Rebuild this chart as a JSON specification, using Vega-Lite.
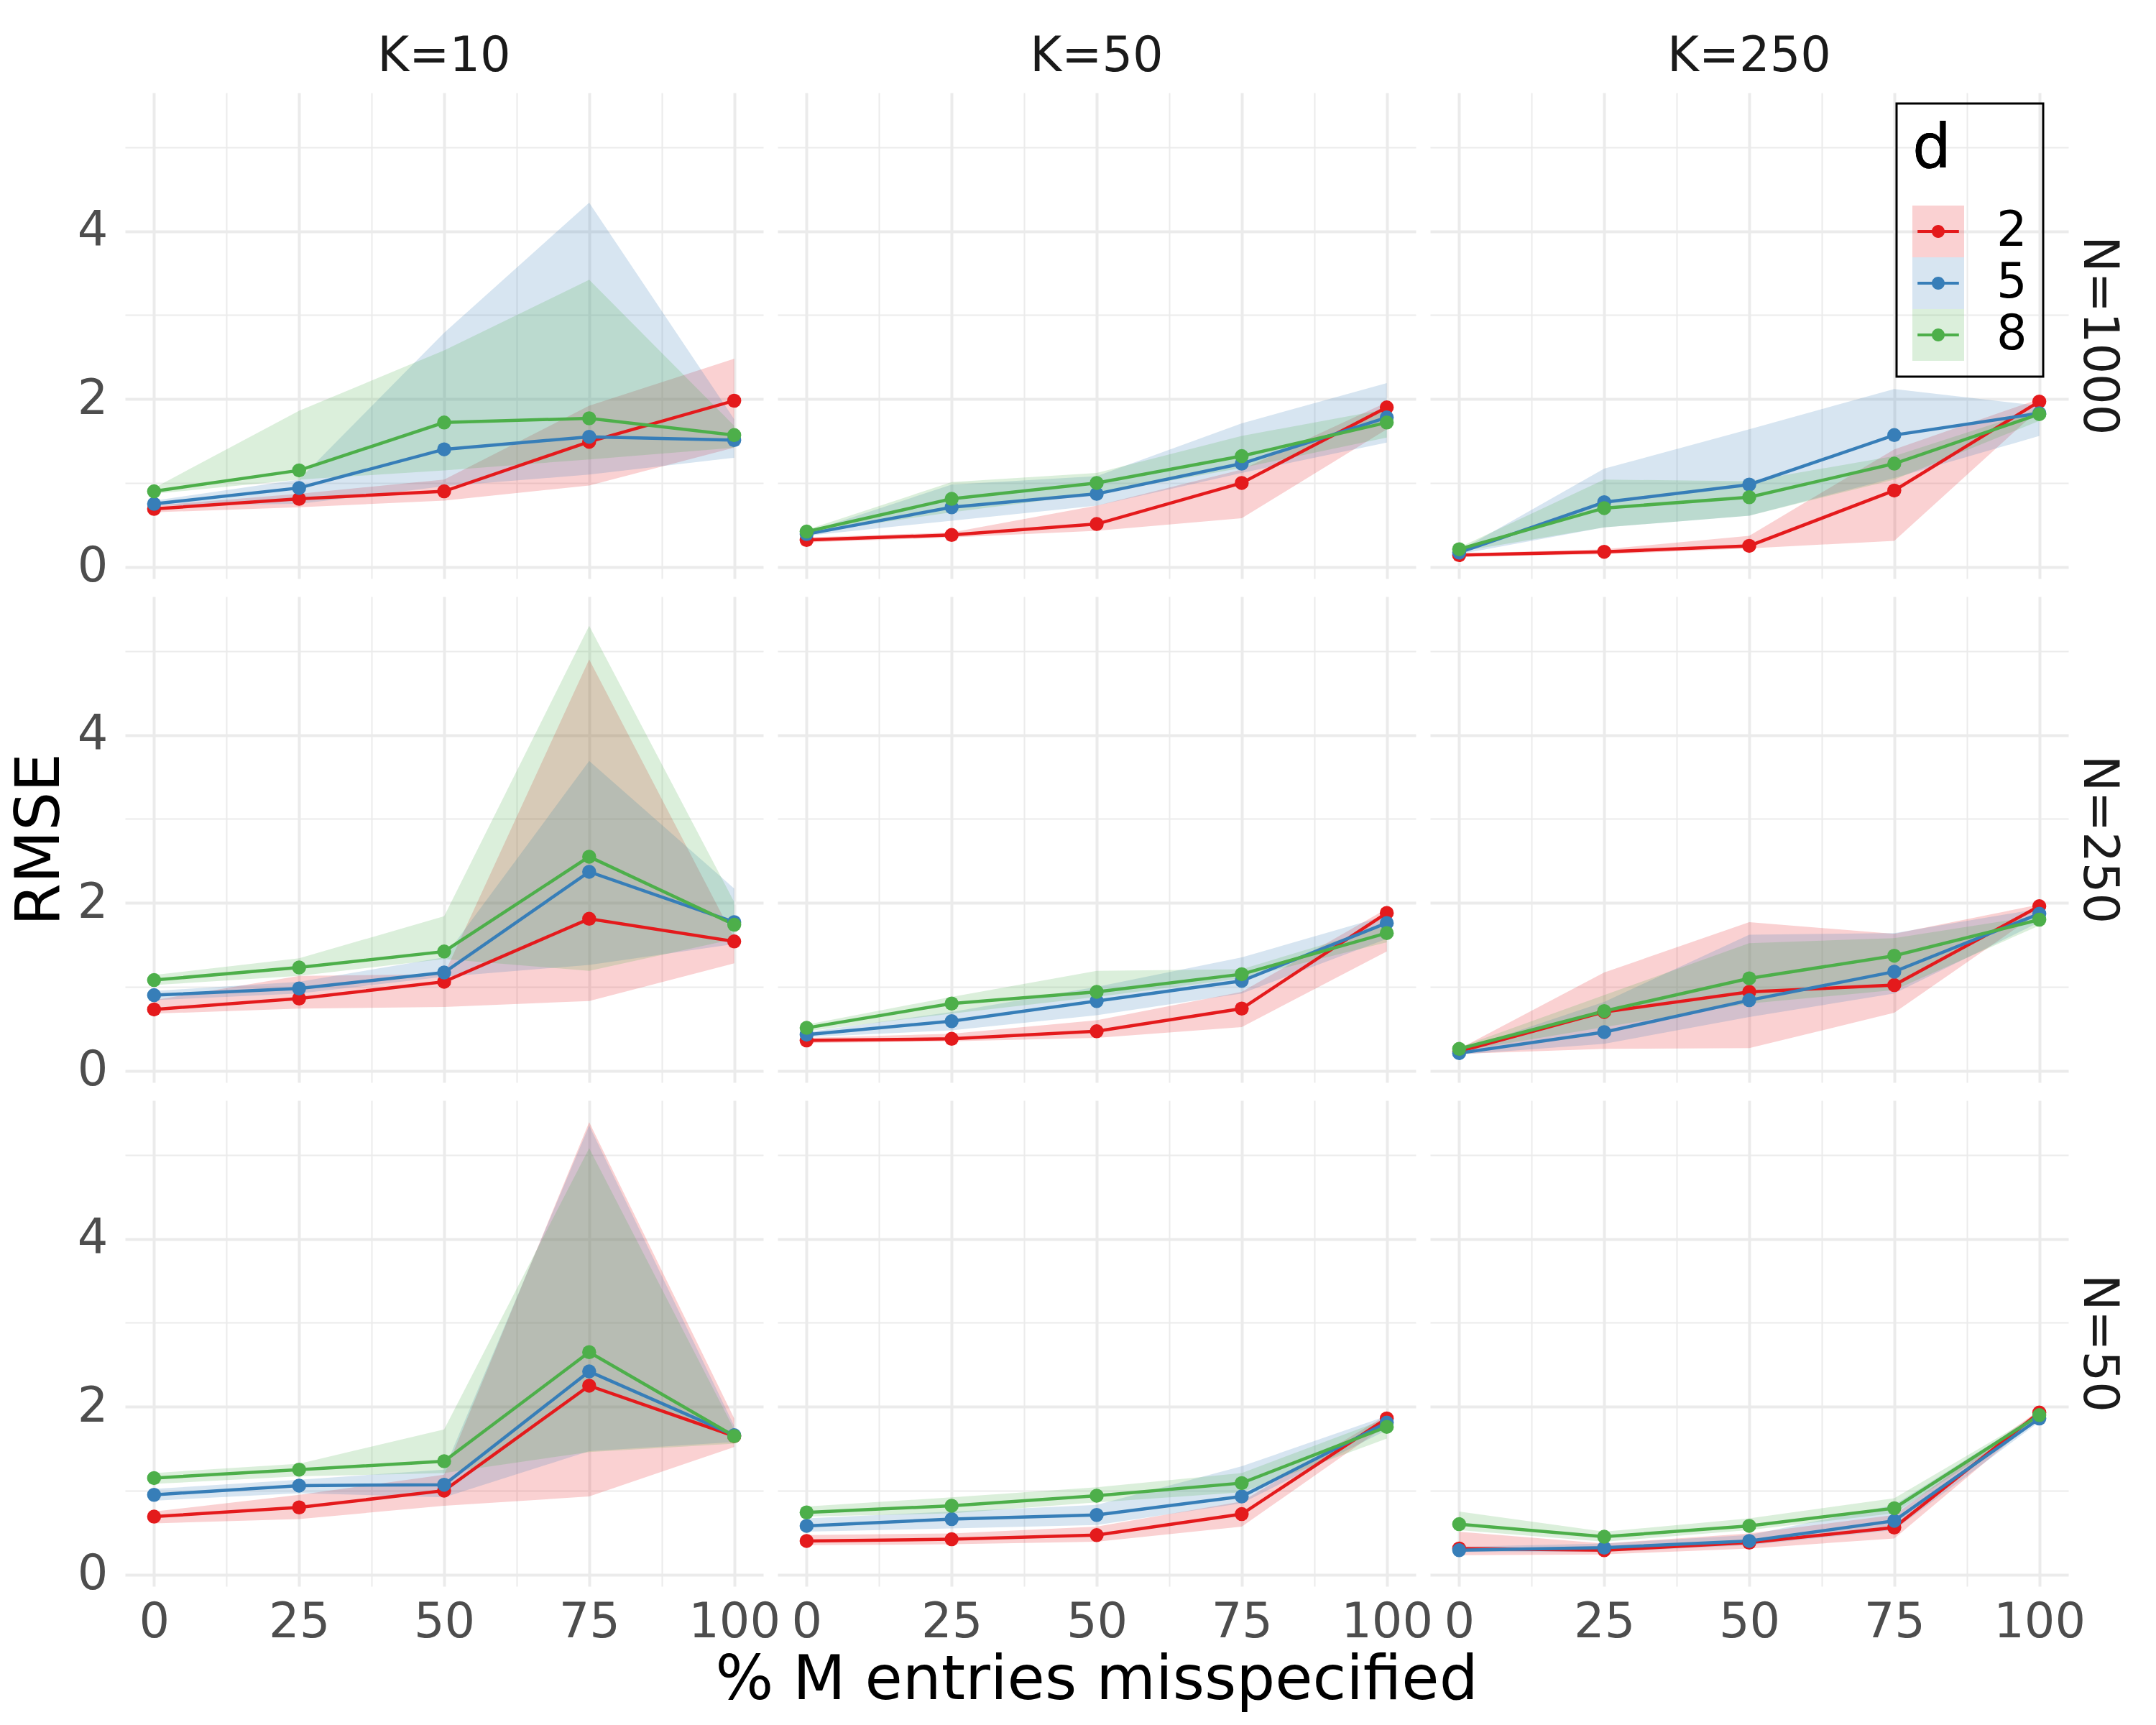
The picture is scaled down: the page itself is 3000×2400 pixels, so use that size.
{
  "$schema": "https://vega.github.io/schema/vega-lite/v6.json",
  "background": "white",
  "padding": {"left": 13, "top": 45, "right": 30, "bottom": 30},
  "data": {"values": [
    {"N":1000,"K":10,"d":"2","x":0,"m":0.69,"lo":0.65,"hi":0.73},
    {"N":1000,"K":10,"d":"2","x":25,"m":0.81,"lo":0.71,"hi":0.87},
    {"N":1000,"K":10,"d":"2","x":50,"m":0.90,"lo":0.79,"hi":1.04},
    {"N":1000,"K":10,"d":"2","x":75,"m":1.49,"lo":0.97,"hi":1.92},
    {"N":1000,"K":10,"d":"2","x":100,"m":1.98,"lo":1.42,"hi":2.48},
    {"N":1000,"K":10,"d":"5","x":0,"m":0.75,"lo":0.73,"hi":0.79},
    {"N":1000,"K":10,"d":"5","x":25,"m":0.94,"lo":0.75,"hi":1.04},
    {"N":1000,"K":10,"d":"5","x":50,"m":1.40,"lo":0.96,"hi":2.79},
    {"N":1000,"K":10,"d":"5","x":75,"m":1.55,"lo":1.10,"hi":4.34},
    {"N":1000,"K":10,"d":"5","x":100,"m":1.51,"lo":1.30,"hi":1.76},
    {"N":1000,"K":10,"d":"8","x":0,"m":0.90,"lo":0.87,"hi":0.94},
    {"N":1000,"K":10,"d":"8","x":25,"m":1.15,"lo":1.04,"hi":1.86},
    {"N":1000,"K":10,"d":"8","x":50,"m":1.72,"lo":1.15,"hi":2.58},
    {"N":1000,"K":10,"d":"8","x":75,"m":1.77,"lo":1.28,"hi":3.42},
    {"N":1000,"K":10,"d":"8","x":100,"m":1.57,"lo":1.42,"hi":1.68},
    {"N":1000,"K":50,"d":"2","x":0,"m":0.32,"lo":0.29,"hi":0.35},
    {"N":1000,"K":50,"d":"2","x":25,"m":0.38,"lo":0.35,"hi":0.41},
    {"N":1000,"K":50,"d":"2","x":50,"m":0.51,"lo":0.43,"hi":0.73},
    {"N":1000,"K":50,"d":"2","x":75,"m":1.00,"lo":0.58,"hi":1.16},
    {"N":1000,"K":50,"d":"2","x":100,"m":1.90,"lo":1.64,"hi":1.96},
    {"N":1000,"K":50,"d":"5","x":0,"m":0.39,"lo":0.37,"hi":0.41},
    {"N":1000,"K":50,"d":"5","x":25,"m":0.71,"lo":0.55,"hi":0.98},
    {"N":1000,"K":50,"d":"5","x":50,"m":0.87,"lo":0.73,"hi":1.08},
    {"N":1000,"K":50,"d":"5","x":75,"m":1.23,"lo":1.12,"hi":1.71},
    {"N":1000,"K":50,"d":"5","x":100,"m":1.78,"lo":1.48,"hi":2.19},
    {"N":1000,"K":50,"d":"8","x":0,"m":0.42,"lo":0.40,"hi":0.44},
    {"N":1000,"K":50,"d":"8","x":25,"m":0.81,"lo":0.65,"hi":1.01},
    {"N":1000,"K":50,"d":"8","x":50,"m":1.00,"lo":0.87,"hi":1.12},
    {"N":1000,"K":50,"d":"8","x":75,"m":1.32,"lo":1.18,"hi":1.56},
    {"N":1000,"K":50,"d":"8","x":100,"m":1.72,"lo":1.54,"hi":1.88},
    {"N":1000,"K":250,"d":"2","x":0,"m":0.14,"lo":0.12,"hi":0.16},
    {"N":1000,"K":250,"d":"2","x":25,"m":0.18,"lo":0.15,"hi":0.21},
    {"N":1000,"K":250,"d":"2","x":50,"m":0.25,"lo":0.22,"hi":0.37},
    {"N":1000,"K":250,"d":"2","x":75,"m":0.91,"lo":0.31,"hi":1.40},
    {"N":1000,"K":250,"d":"2","x":100,"m":1.97,"lo":1.88,"hi":2.00},
    {"N":1000,"K":250,"d":"5","x":0,"m":0.17,"lo":0.15,"hi":0.19},
    {"N":1000,"K":250,"d":"5","x":25,"m":0.77,"lo":0.47,"hi":1.17},
    {"N":1000,"K":250,"d":"5","x":50,"m":0.98,"lo":0.61,"hi":1.64},
    {"N":1000,"K":250,"d":"5","x":75,"m":1.57,"lo":1.06,"hi":2.12},
    {"N":1000,"K":250,"d":"5","x":100,"m":1.83,"lo":1.56,"hi":1.92},
    {"N":1000,"K":250,"d":"8","x":0,"m":0.21,"lo":0.18,"hi":0.23},
    {"N":1000,"K":250,"d":"8","x":25,"m":0.70,"lo":0.47,"hi":1.04},
    {"N":1000,"K":250,"d":"8","x":50,"m":0.83,"lo":0.61,"hi":1.02},
    {"N":1000,"K":250,"d":"8","x":75,"m":1.23,"lo":1.04,"hi":1.32},
    {"N":1000,"K":250,"d":"8","x":100,"m":1.82,"lo":1.74,"hi":1.88},
    {"N":250,"K":10,"d":"2","x":0,"m":0.73,"lo":0.68,"hi":0.84},
    {"N":250,"K":10,"d":"2","x":25,"m":0.86,"lo":0.74,"hi":1.13},
    {"N":250,"K":10,"d":"2","x":50,"m":1.06,"lo":0.76,"hi":1.15},
    {"N":250,"K":10,"d":"2","x":75,"m":1.81,"lo":0.83,"hi":4.90},
    {"N":250,"K":10,"d":"2","x":100,"m":1.54,"lo":1.28,"hi":1.58},
    {"N":250,"K":10,"d":"5","x":0,"m":0.90,"lo":0.84,"hi":0.95},
    {"N":250,"K":10,"d":"5","x":25,"m":0.98,"lo":0.92,"hi":1.06},
    {"N":250,"K":10,"d":"5","x":50,"m":1.17,"lo":1.12,"hi":1.35},
    {"N":250,"K":10,"d":"5","x":75,"m":2.37,"lo":1.26,"hi":3.69},
    {"N":250,"K":10,"d":"5","x":100,"m":1.77,"lo":1.51,"hi":2.17},
    {"N":250,"K":10,"d":"8","x":0,"m":1.08,"lo":1.02,"hi":1.14},
    {"N":250,"K":10,"d":"8","x":25,"m":1.23,"lo":1.13,"hi":1.34},
    {"N":250,"K":10,"d":"8","x":50,"m":1.42,"lo":1.33,"hi":1.84},
    {"N":250,"K":10,"d":"8","x":75,"m":2.55,"lo":1.19,"hi":5.30},
    {"N":250,"K":10,"d":"8","x":100,"m":1.74,"lo":1.57,"hi":2.01},
    {"N":250,"K":50,"d":"2","x":0,"m":0.36,"lo":0.33,"hi":0.39},
    {"N":250,"K":50,"d":"2","x":25,"m":0.38,"lo":0.35,"hi":0.44},
    {"N":250,"K":50,"d":"2","x":50,"m":0.47,"lo":0.39,"hi":0.60},
    {"N":250,"K":50,"d":"2","x":75,"m":0.74,"lo":0.52,"hi":0.94},
    {"N":250,"K":50,"d":"2","x":100,"m":1.88,"lo":1.42,"hi":1.93},
    {"N":250,"K":50,"d":"5","x":0,"m":0.43,"lo":0.40,"hi":0.46},
    {"N":250,"K":50,"d":"5","x":25,"m":0.59,"lo":0.48,"hi":0.70},
    {"N":250,"K":50,"d":"5","x":50,"m":0.83,"lo":0.66,"hi":1.00},
    {"N":250,"K":50,"d":"5","x":75,"m":1.07,"lo":0.92,"hi":1.35},
    {"N":250,"K":50,"d":"5","x":100,"m":1.76,"lo":1.57,"hi":1.85},
    {"N":250,"K":50,"d":"8","x":0,"m":0.51,"lo":0.47,"hi":0.55},
    {"N":250,"K":50,"d":"8","x":25,"m":0.80,"lo":0.68,"hi":0.88},
    {"N":250,"K":50,"d":"8","x":50,"m":0.94,"lo":0.88,"hi":1.19},
    {"N":250,"K":50,"d":"8","x":75,"m":1.15,"lo":1.10,"hi":1.21},
    {"N":250,"K":50,"d":"8","x":100,"m":1.64,"lo":1.53,"hi":1.73},
    {"N":250,"K":250,"d":"2","x":0,"m":0.23,"lo":0.20,"hi":0.26},
    {"N":250,"K":250,"d":"2","x":25,"m":0.70,"lo":0.26,"hi":1.17},
    {"N":250,"K":250,"d":"2","x":50,"m":0.94,"lo":0.27,"hi":1.77},
    {"N":250,"K":250,"d":"2","x":75,"m":1.02,"lo":0.69,"hi":1.63},
    {"N":250,"K":250,"d":"2","x":100,"m":1.96,"lo":1.89,"hi":1.98},
    {"N":250,"K":250,"d":"5","x":0,"m":0.21,"lo":0.19,"hi":0.24},
    {"N":250,"K":250,"d":"5","x":25,"m":0.46,"lo":0.32,"hi":0.82},
    {"N":250,"K":250,"d":"5","x":50,"m":0.84,"lo":0.64,"hi":1.62},
    {"N":250,"K":250,"d":"5","x":75,"m":1.18,"lo":0.92,"hi":1.64},
    {"N":250,"K":250,"d":"5","x":100,"m":1.87,"lo":1.77,"hi":1.93},
    {"N":250,"K":250,"d":"8","x":0,"m":0.26,"lo":0.23,"hi":0.28},
    {"N":250,"K":250,"d":"8","x":25,"m":0.71,"lo":0.52,"hi":0.90},
    {"N":250,"K":250,"d":"8","x":50,"m":1.10,"lo":0.80,"hi":1.52},
    {"N":250,"K":250,"d":"8","x":75,"m":1.37,"lo":0.96,"hi":1.58},
    {"N":250,"K":250,"d":"8","x":100,"m":1.80,"lo":1.73,"hi":1.85},
    {"N":50,"K":10,"d":"2","x":0,"m":0.69,"lo":0.61,"hi":0.75},
    {"N":50,"K":10,"d":"2","x":25,"m":0.80,"lo":0.66,"hi":0.95},
    {"N":50,"K":10,"d":"2","x":50,"m":1.00,"lo":0.82,"hi":1.19},
    {"N":50,"K":10,"d":"2","x":75,"m":2.25,"lo":0.93,"hi":5.39},
    {"N":50,"K":10,"d":"2","x":100,"m":1.65,"lo":1.52,"hi":1.86},
    {"N":50,"K":10,"d":"5","x":0,"m":0.95,"lo":0.88,"hi":1.02},
    {"N":50,"K":10,"d":"5","x":25,"m":1.06,"lo":0.97,"hi":1.13},
    {"N":50,"K":10,"d":"5","x":50,"m":1.07,"lo":0.92,"hi":1.25},
    {"N":50,"K":10,"d":"5","x":75,"m":2.42,"lo":1.47,"hi":5.35},
    {"N":50,"K":10,"d":"5","x":100,"m":1.66,"lo":1.58,"hi":1.77},
    {"N":50,"K":10,"d":"8","x":0,"m":1.15,"lo":1.08,"hi":1.21},
    {"N":50,"K":10,"d":"8","x":25,"m":1.25,"lo":1.17,"hi":1.32},
    {"N":50,"K":10,"d":"8","x":50,"m":1.35,"lo":1.21,"hi":1.73},
    {"N":50,"K":10,"d":"8","x":75,"m":2.65,"lo":1.46,"hi":5.08},
    {"N":50,"K":10,"d":"8","x":100,"m":1.65,"lo":1.56,"hi":1.73},
    {"N":50,"K":50,"d":"2","x":0,"m":0.40,"lo":0.35,"hi":0.47},
    {"N":50,"K":50,"d":"2","x":25,"m":0.42,"lo":0.36,"hi":0.49},
    {"N":50,"K":50,"d":"2","x":50,"m":0.47,"lo":0.39,"hi":0.57},
    {"N":50,"K":50,"d":"2","x":75,"m":0.72,"lo":0.57,"hi":0.87},
    {"N":50,"K":50,"d":"2","x":100,"m":1.86,"lo":1.78,"hi":1.90},
    {"N":50,"K":50,"d":"5","x":0,"m":0.58,"lo":0.51,"hi":0.67},
    {"N":50,"K":50,"d":"5","x":25,"m":0.66,"lo":0.55,"hi":0.75},
    {"N":50,"K":50,"d":"5","x":50,"m":0.71,"lo":0.59,"hi":0.83},
    {"N":50,"K":50,"d":"5","x":75,"m":0.93,"lo":0.85,"hi":1.29},
    {"N":50,"K":50,"d":"5","x":100,"m":1.81,"lo":1.72,"hi":1.89},
    {"N":50,"K":50,"d":"8","x":0,"m":0.74,"lo":0.69,"hi":0.81},
    {"N":50,"K":50,"d":"8","x":25,"m":0.82,"lo":0.73,"hi":0.92},
    {"N":50,"K":50,"d":"8","x":50,"m":0.94,"lo":0.86,"hi":1.04},
    {"N":50,"K":50,"d":"8","x":75,"m":1.09,"lo":0.98,"hi":1.21},
    {"N":50,"K":50,"d":"8","x":100,"m":1.76,"lo":1.62,"hi":1.86},
    {"N":50,"K":250,"d":"2","x":0,"m":0.31,"lo":0.23,"hi":0.51},
    {"N":50,"K":250,"d":"2","x":25,"m":0.29,"lo":0.24,"hi":0.37},
    {"N":50,"K":250,"d":"2","x":50,"m":0.38,"lo":0.31,"hi":0.49},
    {"N":50,"K":250,"d":"2","x":75,"m":0.56,"lo":0.43,"hi":0.71},
    {"N":50,"K":250,"d":"2","x":100,"m":1.93,"lo":1.88,"hi":1.96},
    {"N":50,"K":250,"d":"5","x":0,"m":0.29,"lo":0.27,"hi":0.33},
    {"N":50,"K":250,"d":"5","x":25,"m":0.32,"lo":0.27,"hi":0.37},
    {"N":50,"K":250,"d":"5","x":50,"m":0.40,"lo":0.35,"hi":0.47},
    {"N":50,"K":250,"d":"5","x":75,"m":0.64,"lo":0.53,"hi":0.83},
    {"N":50,"K":250,"d":"5","x":100,"m":1.86,"lo":1.82,"hi":1.92},
    {"N":50,"K":250,"d":"8","x":0,"m":0.60,"lo":0.53,"hi":0.75},
    {"N":50,"K":250,"d":"8","x":25,"m":0.45,"lo":0.39,"hi":0.51},
    {"N":50,"K":250,"d":"8","x":50,"m":0.58,"lo":0.53,"hi":0.67},
    {"N":50,"K":250,"d":"8","x":75,"m":0.79,"lo":0.73,"hi":0.91},
    {"N":50,"K":250,"d":"8","x":100,"m":1.90,"lo":1.85,"hi":1.92}
  ]},
  "facet": {
    "row": {"field": "N", "type": "ordinal", "sort": [1000, 250, 50], "title": "RMSE",
      "header": {"labelOrient": "right", "labelAngle": 90, "labelExpr": "'N=' + datum.value", "labelFontSize": 67, "labelColor": "#1a1a1a", "labelPadding": 8, "labelAlign": "center",
        "titleOrient": "left", "titleAngle": -90, "titleFontSize": 85, "titleFontWeight": "normal", "titleColor": "black", "titlePadding": -88}},
    "column": {"field": "K", "type": "ordinal", "sort": [10, 50, 250], "title": "% M entries misspecified",
      "header": {"labelOrient": "top", "labelExpr": "'K=' + datum.value", "labelFontSize": 67, "labelColor": "#1a1a1a", "labelPadding": -37, "labelBaseline": "alphabetic",
        "titleOrient": "bottom", "titleFontSize": 85, "titleFontWeight": "normal", "titleColor": "black", "titlePadding": -3}}
  },
  "spacing": {"row": 25, "column": 20},
  "spec": {
    "width": 888,
    "height": 676,
    "encoding": {
      "x": {"field": "x", "type": "quantitative", "scale": {"domain": [-5, 105], "nice": false, "zero": false},
        "axis": {"values": [0, 12.5, 25, 37.5, 50, 62.5, 75, 87.5, 100], "labelExpr": "datum.value % 25 === 0 ? datum.label : ''",
          "grid": true, "gridWidth": {"condition": {"test": "datum.value % 25 === 0", "value": 4}, "value": 2},
          "labelPadding": 17, "title": null, "labelFlush": false, "labelOverlap": false}}
    },
    "layer": [
      {
        "mark": {"type": "area", "fillOpacity": 0.2},
        "encoding": {
          "y": {"field": "lo", "type": "quantitative", "scale": {"domain": [-0.14, 5.65], "nice": false, "zero": false},
            "axis": {"values": [0, 1, 2, 3, 4, 5], "format": "d", "labelExpr": "datum.value % 2 === 0 ? datum.label : ''",
              "grid": true, "gridWidth": {"condition": {"test": "datum.value % 2 === 0", "value": 4}, "value": 2},
              "labelPadding": 24, "title": null, "labelOverlap": false}},
          "y2": {"field": "hi"},
          "fill": {"field": "d", "type": "nominal", "scale": {"domain": ["2", "5", "8"], "range": ["#E41A1C", "#377EB8", "#4DAF4A"]},
            "legend": {"orient": "none", "legendX": 2465, "legendY": 15, "title": "d", "titleFontSize": 85, "titleFontWeight": "normal", "titleColor": "black", "titlePadding": 35,
              "labelFontSize": 67, "labelColor": "black", "labelOffset": 45, "symbolType": "square", "symbolSize": 5184, "symbolOpacity": 0.2, "symbolStrokeWidth": 0,
              "rowPadding": 0, "padding": 22, "strokeColor": "black"}}
        }
      },
      {
        "mark": {"type": "line", "strokeWidth": 4.5},
        "encoding": {
          "y": {"field": "m", "type": "quantitative"},
          "stroke": {"field": "d", "type": "nominal", "scale": {"range": ["#E41A1C", "#377EB8", "#4DAF4A"]},
            "legend": {"orient": "none", "legendX": 2465, "legendY": 15, "title": "d", "titleFontSize": 85, "titleFontWeight": "normal", "titleColor": "black", "titlePadding": 35,
              "labelFontSize": 67, "labelColor": "black", "labelOffset": 45, "labelOpacity": 0,
              "symbolType": "M-1,-1L-1,-1Z M1,1L1,1Z M-0.8,-0.055L0.8,-0.055L0.8,0.055L-0.8,0.055Z M0.25,0A0.25,0.25 0 1,1 -0.25,0A0.25,0.25 0 1,1 0.25,0Z",
              "symbolSize": 5184, "symbolOpacity": 1, "symbolStrokeWidth": 0, "rowPadding": 0, "padding": 22}}
        }
      },
      {
        "mark": {"type": "circle", "size": 380, "opacity": 1},
        "encoding": {
          "y": {"field": "m", "type": "quantitative"},
          "color": {"field": "d", "type": "nominal", "scale": {"range": ["#E41A1C", "#377EB8", "#4DAF4A"]},
            "legend": {"orient": "none", "legendX": 2465, "legendY": 15, "title": "d", "titleFontSize": 85, "titleFontWeight": "normal", "titleColor": "black", "titlePadding": 35,
              "labelFontSize": 67, "labelColor": "black", "labelOffset": 45, "labelOpacity": 0,
              "symbolType": "M-1,-1L-1,-1Z M1,1L1,1Z M-0.8,-0.055L0.8,-0.055L0.8,0.055L-0.8,0.055Z M0.25,0A0.25,0.25 0 1,1 -0.25,0A0.25,0.25 0 1,1 0.25,0Z",
              "symbolSize": 5184, "symbolOpacity": 1, "symbolStrokeWidth": 0, "rowPadding": 0, "padding": 22}}
        }
      }
    ]
  },
  "config": {
    "font": "DejaVu Sans",
    "view": {"stroke": null},
    "axis": {"domain": false, "ticks": false, "gridColor": "#ebebeb", "labelColor": "#4d4d4d", "labelFontSize": 67, "labelFont": "DejaVu Sans"},
    "legend": {"labelFont": "DejaVu Sans", "titleFont": "DejaVu Sans", "strokeWidth": 3},
    "header": {"labelFont": "DejaVu Sans", "titleFont": "DejaVu Sans"}
  }
}
